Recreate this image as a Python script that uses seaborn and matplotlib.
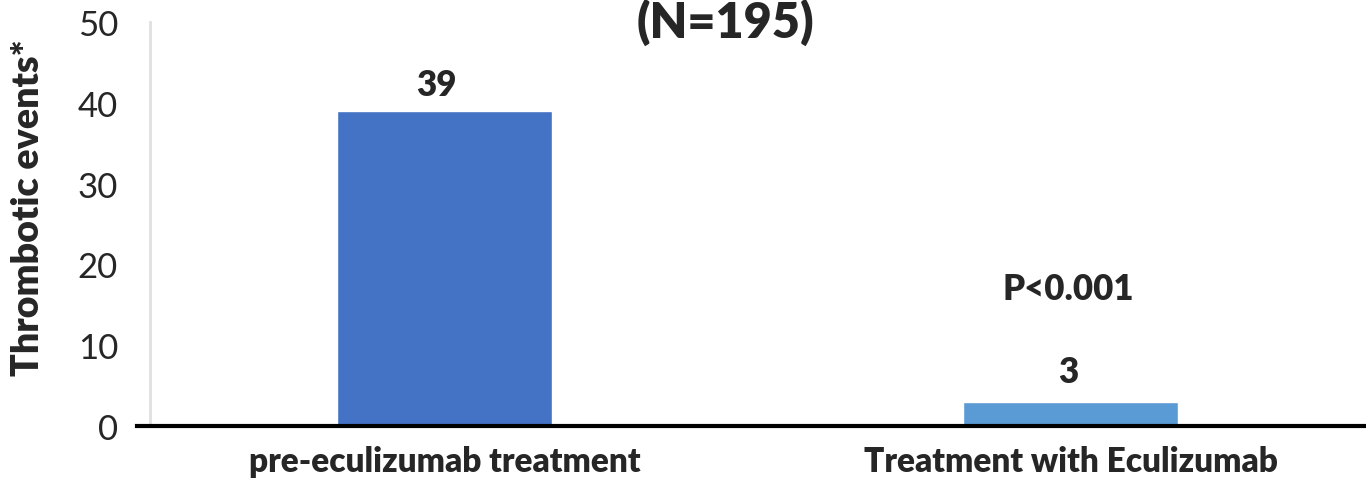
import matplotlib
matplotlib.use('Agg')
import matplotlib.pyplot as plt
import seaborn as sns
import pandas as pd

categories = ['pre-eculizumab treatment', 'Treatment with Eculizumab']
events = [39, 3]
bar_colors = ['#4472C4', '#5B9BD5']

data = pd.DataFrame({'period': categories, 'events': events})

sns.set_theme(style='white')
plt.rcParams['font.family'] = ['Lato', 'DejaVu Sans']

fig = plt.figure(figsize=(13.66, 4.81), dpi=100)
ax = fig.add_axes([150 / 1366, 1 - 427 / 481, 1 - 150 / 1366, (427 - 23) / 481])

sns.barplot(data=data, x='period', y='events', hue='period', palette=bar_colors,
            width=0.343, saturation=1, legend=False, ax=ax)

ax.set_xlim(-0.470, 1.471)
ax.set_ylim(0, 50)
ax.set_yticks(range(0, 51, 10))
ax.tick_params(axis='y', labelsize=25, length=9, width=2, color='#e0e0e0', pad=14)
ax.set_xticks([-0.470, 0.531], minor=True)
ax.tick_params(axis='x', which='minor', length=7, width=2, color='#e0e0e0')
ax.set_xticks([0, 1])
ax.set_xticklabels(categories, fontweight='heavy', fontsize=24)
ax.tick_params(axis='x', which='major', length=0, pad=14)

for s in ['top', 'right']:
    ax.spines[s].set_visible(False)
ax.spines['left'].set_color('#e0e0e0')
ax.spines['left'].set_linewidth(2)
ax.spines['bottom'].set_color('black')
ax.spines['bottom'].set_linewidth(3)
ax.spines['bottom'].set_zorder(5)
ax.spines['bottom'].set_bounds(-0.491, 1.471)

ax.set_xlabel('')
ax.set_ylabel('Thrombotic events*', fontsize=27, fontweight='heavy')
ax.yaxis.set_label_coords(-(150 - 45) / 1216, 0.543)

label_y = [42.3, 6.7]
label_dx = [-0.013, -0.004]
for i, v in enumerate(events):
    ax.text(i + label_dx[i], label_y[i], str(v), ha='center', va='center',
            fontsize=25, fontweight='heavy')

ax.text(0.995, 16.96, 'P<0.001', ha='center', va='center', fontsize=25, fontweight='heavy')

fig.text(725 / 1366, 1 - 22 / 481, '(N=195)', ha='center', va='center',
         fontsize=35, fontweight='heavy')

fig.savefig('out.png', dpi=100)
